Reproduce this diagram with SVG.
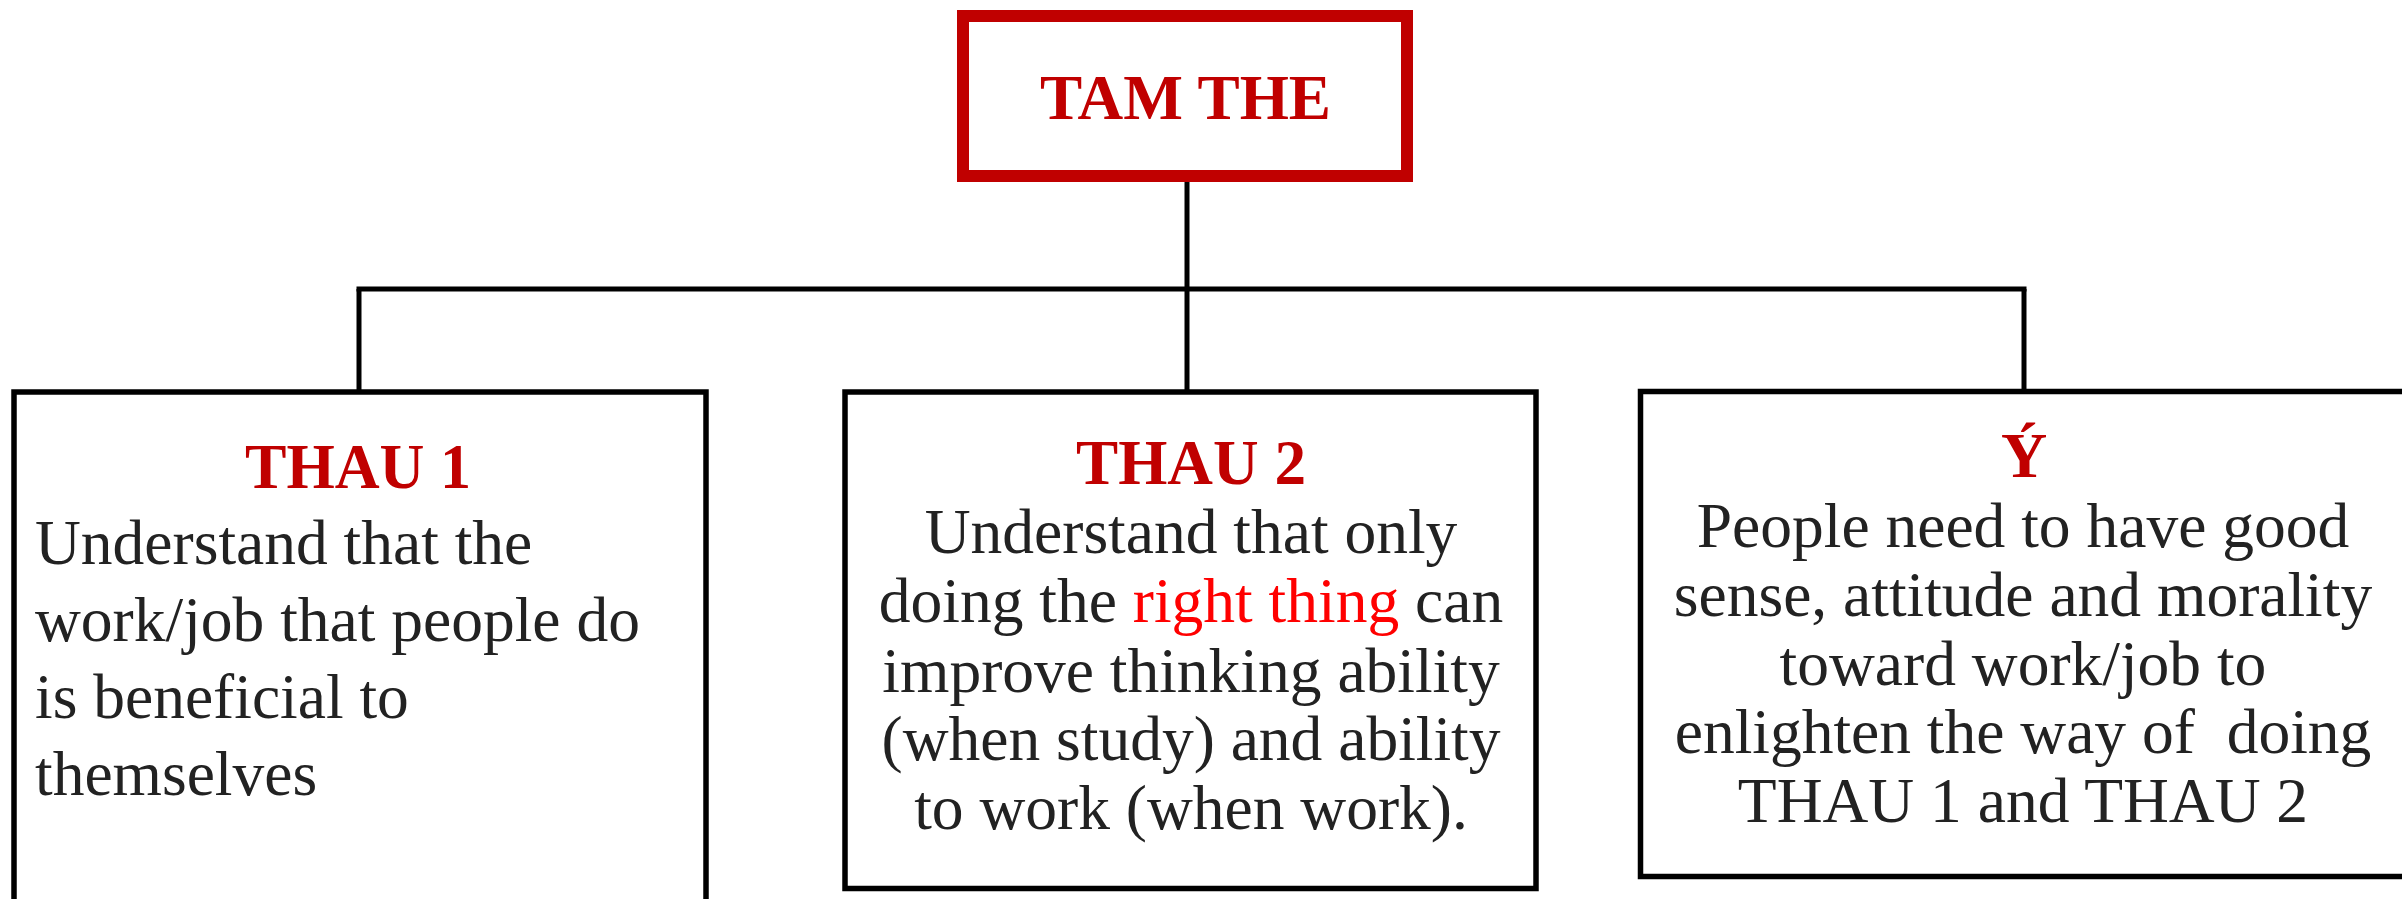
<svg xmlns="http://www.w3.org/2000/svg" width="2402" height="899" viewBox="0 0 2402 899">
<style>
.box{fill:#ffffff;stroke:#000000;stroke-width:5.5}
.top{fill:#ffffff;stroke:#c00000;stroke-width:12}
.conn{stroke:#000000;stroke-width:5;fill:none}
.head{font-family:"Liberation Serif","Times New Roman",serif;font-weight:bold;font-size:64px;fill:#c00000;text-anchor:middle}
.body{font-family:"Liberation Serif","Times New Roman",serif;font-size:63.5px;fill:#222222}
.mid{text-anchor:middle}
.red{fill:#ff0000}
</style>
<rect x="0" y="0" width="2402" height="899" fill="#ffffff"/>
<g id="connectors">
<line class="conn" x1="1187" y1="176" x2="1187" y2="392"/>
<line class="conn" x1="356.5" y1="289" x2="2026.5" y2="289"/>
<line class="conn" x1="359" y1="289" x2="359" y2="392"/>
<line class="conn" x1="2024" y1="289" x2="2024" y2="392"/>
</g>
<g id="tam-the">
<rect class="top" x="963" y="16" width="444" height="160"/>
<text class="head" x="1185.5" y="119" textLength="291" lengthAdjust="spacingAndGlyphs">TAM THE</text>
</g>
<g id="thau1">
<rect class="box" x="14" y="392" width="692" height="620"/>
<text class="head" x="358" y="488" textLength="226" lengthAdjust="spacingAndGlyphs">THAU 1</text>
<text class="body" x="35" y="564">Understand that the</text>
<text class="body" x="35" y="641">work/job that people do</text>
<text class="body" x="35" y="718">is beneficial to</text>
<text class="body" x="35" y="795">themselves</text>
</g>
<g id="thau2">
<rect class="box" x="845" y="392" width="691" height="496.5"/>
<text class="head" x="1191" y="484" textLength="230" lengthAdjust="spacingAndGlyphs">THAU 2</text>
<text class="body mid" x="1191" y="553">Understand that only</text>
<text class="body mid" x="1191" y="622">doing the <tspan class="red">right thing</tspan> can</text>
<text class="body mid" x="1191" y="692">improve thinking ability</text>
<text class="body mid" x="1191" y="760">(when study) and ability</text>
<text class="body mid" x="1191" y="829">to work (when work).</text>
</g>
<g id="y">
<rect class="box" x="1640.5" y="391.5" width="780" height="485"/>
<text class="head" x="2024" y="477">Ý</text>
<text class="body mid" x="2023" y="547">People need to have good</text>
<text class="body mid" x="2023" y="616">sense, attitude and morality</text>
<text class="body mid" x="2023" y="685">toward work/job to</text>
<text class="body mid" x="2023" y="753" xml:space="preserve" style="white-space:pre">enlighten the way of  doing</text>
<text class="body mid" x="2023" y="822">THAU 1 and THAU 2</text>
</g>
</svg>
